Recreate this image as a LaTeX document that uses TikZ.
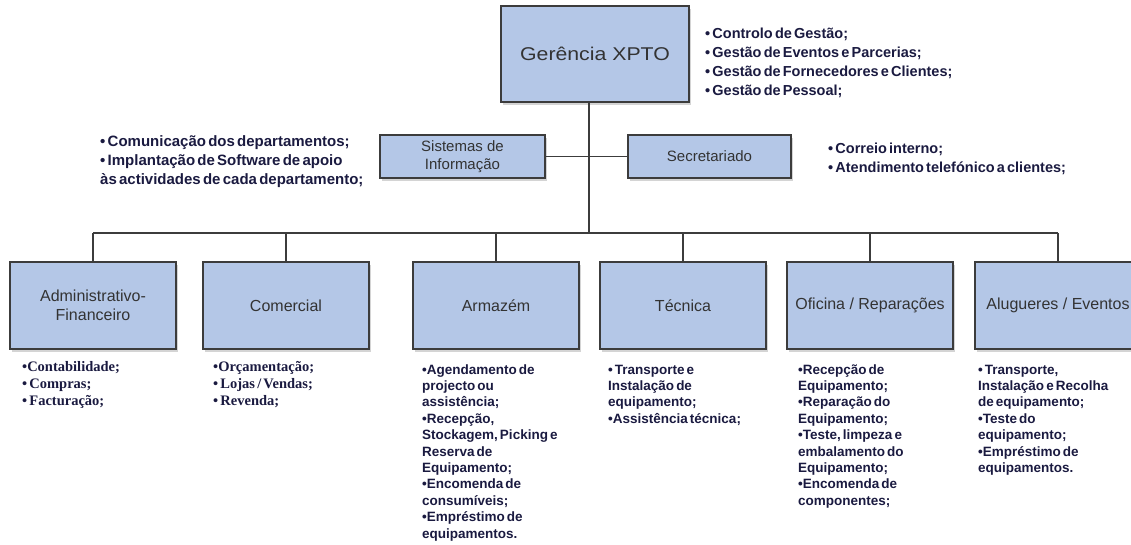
\documentclass[tikz,border=0pt]{standalone}
\usepackage{fontspec}
\setmainfont{Liberation Sans}
\newfontfamily\wideface{Liberation Sans}[FakeStretch=1.15]
\newfontfamily\notesans{Liberation Sans}
\newfontfamily\noteserif{Liberation Serif}
\usetikzlibrary{shadows}

\definecolor{boxfill}{HTML}{B4C7E7}
\definecolor{boxline}{HTML}{3C3C3C}
\definecolor{labeltext}{HTML}{333333}
\definecolor{notetext}{HTML}{1A1A40}
\definecolor{shadowgray}{HTML}{D4D4D4}

% tight interword spacing used in the bullet notes
\newcommand{\tightwords}{\spaceskip=0.15em plus 0.05em\relax}
% invisible strut that fixes the top of the first note line
\newcommand{\firstline}{\rule{0pt}{1em}}

\tikzset{
  orgbox/.style={draw=boxline, line width=1.3pt, fill=boxfill, inner sep=0pt,
    text=labeltext, align=center,
    drop shadow={shadow xshift=1.5pt, shadow yshift=-3pt, fill=shadowgray, opacity=1}},
  deptbox/.style={orgbox, minimum width=166pt, minimum height=87pt,
    font=\fontsize{16}{19}\selectfont},
  staffbox/.style={orgbox, minimum height=43pt,
    font=\fontsize{15}{18}\selectfont},
  link/.style={draw=boxline, line width=1.3pt},
  note/.style={anchor=north west, inner sep=0pt, text=notetext, align=left},
  topnote/.style={note, font=\notesans\bfseries\fontsize{14.5}{19}\selectfont\tightwords},
  sidenote/.style={note, font=\notesans\bfseries\fontsize{15}{19}\selectfont\tightwords},
  deptnote/.style={note, font=\notesans\bfseries\fontsize{13.5}{16.4}\selectfont\tightwords},
  serifnote/.style={note, font=\noteserif\bfseries\fontsize{14.5}{16.8}\selectfont\tightwords},
}

\begin{document}
\begin{tikzpicture}[x=1pt, y=-1pt]
\useasboundingbox (0,0) rectangle (1131,545);
\clip (0,0) rectangle (1131,545);

% top management
\node[orgbox, minimum width=188pt, minimum height=96pt,
      font=\wideface\fontsize{18.5}{22}\selectfont] (ger) at (595,54) {Gerência XPTO};

% staff units
\node[staffbox, minimum width=165pt] (sis) at (462.5,156.5) {Sistemas de\\Informação};
\node[staffbox, minimum width=163pt] (sec) at (709.5,156.5) {Secretariado};

% departments
\node[deptbox] (adm) at (93,305.5)   {Administrativo-\\Financeiro};
\node[deptbox] (com) at (286,305.5)  {Comercial};
\node[deptbox] (arm) at (496,305.5)  {Armazém};
\node[deptbox] (tec) at (683,305.5)  {Técnica};
\node[deptbox] (ofi) at (870,305.5)  {Oficina / Reparações};
\node[deptbox] (alu) at (1058,305.5) {Alugueres / Eventos};

% connectors
\coordinate (bus) at (589,233);
\draw[link] (ger.south -| bus) -- (bus);
\draw[link] (sis.east) -- (sec.west);
\draw[link] (adm.north |- bus) -- (alu.north |- bus);
\foreach \d in {adm,com,arm,tec,ofi,alu}
  \draw[link] (\d.north |- bus) -- (\d.north);

% notes
\node[topnote] (nger) at (705,23.7) {\firstline• Controlo de Gestão;\\
  • Gestão de Eventos e Parcerias;\\
  • Gestão de Fornecedores e Clientes;\\
  • Gestão de Pessoal;};
\node[sidenote] (nsis) at (100,131.4) {\firstline• Comunicação dos departamentos;\\
  • Implantação de Software de apoio\\
  às actividades de cada departamento;};
\node[topnote] (nsec) at (828,138.7) {\firstline• Correio interno;\\
  • Atendimento telefónico a clientes;};

\node[serifnote] (nadm) at (22,356.7) {\firstline•Contabilidade;\\
  • Compras;\\
  • Facturação;};
\node[serifnote] (ncom) at (213,356.7) {\firstline•Orçamentação;\\
  • Lojas / Vendas;\\
  • Revenda;};
\node[deptnote] (narm) at (422,360.4) {\firstline•Agendamento de\\
  projecto ou\\
  assistência;\\
  •Recepção,\\
  Stockagem, Picking e\\
  Reserva de\\
  Equipamento;\\
  •Encomenda de\\
  consumíveis;\\
  •Empréstimo de\\
  equipamentos.};
\node[deptnote] (ntec) at (608,360.4) {\firstline• Transporte e\\
  Instalação de\\
  equipamento;\\
  •Assistência técnica;};
\node[deptnote] (nofi) at (798,360.4) {\firstline•Recepção de\\
  Equipamento;\\
  •Reparação do\\
  Equipamento;\\
  •Teste, limpeza e\\
  embalamento do\\
  Equipamento;\\
  •Encomenda de\\
  componentes;};
\node[deptnote] (nalu) at (978,360.4) {\firstline• Transporte,\\
  Instalação e Recolha\\
  de equipamento;\\
  •Teste do\\
  equipamento;\\
  •Empréstimo de\\
  equipamentos.};
\end{tikzpicture}
\end{document}
